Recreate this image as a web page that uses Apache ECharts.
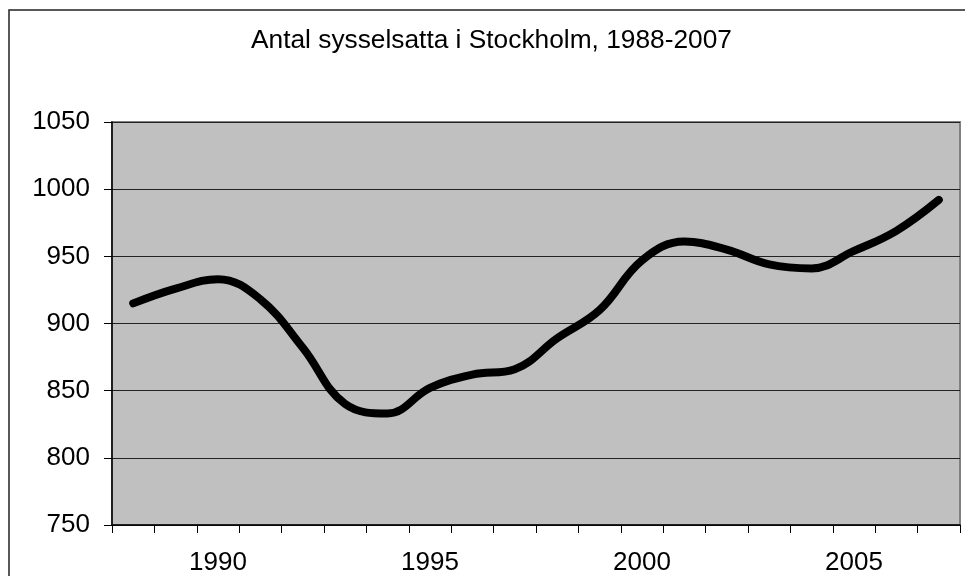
<!DOCTYPE html>
<html>
<head>
<meta charset="utf-8">
<script src="https://cdn.jsdelivr.net/npm/echarts@6/dist/echarts.min.js"></script>
<style>
  html, body { margin: 0; padding: 0; background: #fff; }
  #chart { width: 965px; height: 576px; }
</style>
</head>
<body>
<div id="chart"></div>
<script>
// år och antal sysselsatta (tusental)
const years = ['1988', '1989', '1990', '1991', '1992', '1993', '1994', '1995', '1996', '1997',
  '1998', '1999', '2000', '2001', '2002', '2003', '2004', '2005', '2006', '2007'];
const employed = [915, 926, 933, 918, 882, 840, 833, 852, 862, 866,
  889, 910, 947, 961, 955, 944, 941, 954, 969, 992];
const yTicks = [750, 800, 850, 900, 950, 1000, 1050];
const labelYears = ['1990', '1995', '2000', '2005'];

const chart = echarts.init(document.getElementById('chart'));
const font = 'Liberation Sans, Arial, sans-serif';

const option = {
  backgroundColor: '#fff',
  animation: false,
  title: {
    text: 'Antal sysselsatta i Stockholm, 1988-2007',
    left: 246,
    top: 23,
    textStyle: { fontFamily: font, fontSize: 26.3, fontWeight: 'normal', color: '#000' }
  },
  graphic: [{
    type: 'rect',
    z: -1,
    shape: { x: 9, y: 10, width: 1000, height: 1000 },
    style: { fill: 'none', stroke: '#222', lineWidth: 1.5 }
  }],
  grid: {
    left: 112, right: 5, top: 122, bottom: 49,
    show: true,
    backgroundColor: '#c0c0c0',
    borderColor: '#808080',
    borderWidth: 2
  },
  xAxis: {
    type: 'category',
    data: years,
    boundaryGap: true,
    axisLine: { lineStyle: { color: '#000', width: 1.5 } },
    axisTick: { show: true, interval: 0, length: 8, lineStyle: { color: '#000' } },
    axisLabel: {
      interval: (i, v) => labelYears.includes(v),
      margin: 25,
      fontFamily: font, fontSize: 26, color: '#000'
    }
  },
  yAxis: {
    type: 'value',
    min: yTicks[0],
    max: yTicks[yTicks.length - 1],
    interval: 50,
    axisLine: { show: true, lineStyle: { color: '#000', width: 1.5 } },
    axisTick: { show: true, length: 8, lineStyle: { color: '#000' } },
    axisLabel: {
      margin: 22, fontFamily: font, fontSize: 26, color: '#000',
      formatter: v => String(v)
    },
    splitLine: { show: true, lineStyle: { color: '#222', width: 1 } }
  },
  series: [{
    type: 'line',
    data: employed,
    smooth: 0.4,
    symbol: 'none',
    lineStyle: { color: '#000', width: 8, cap: 'round', join: 'round' }
  }]
};

chart.setOption(option);
</script>
</body>
</html>
